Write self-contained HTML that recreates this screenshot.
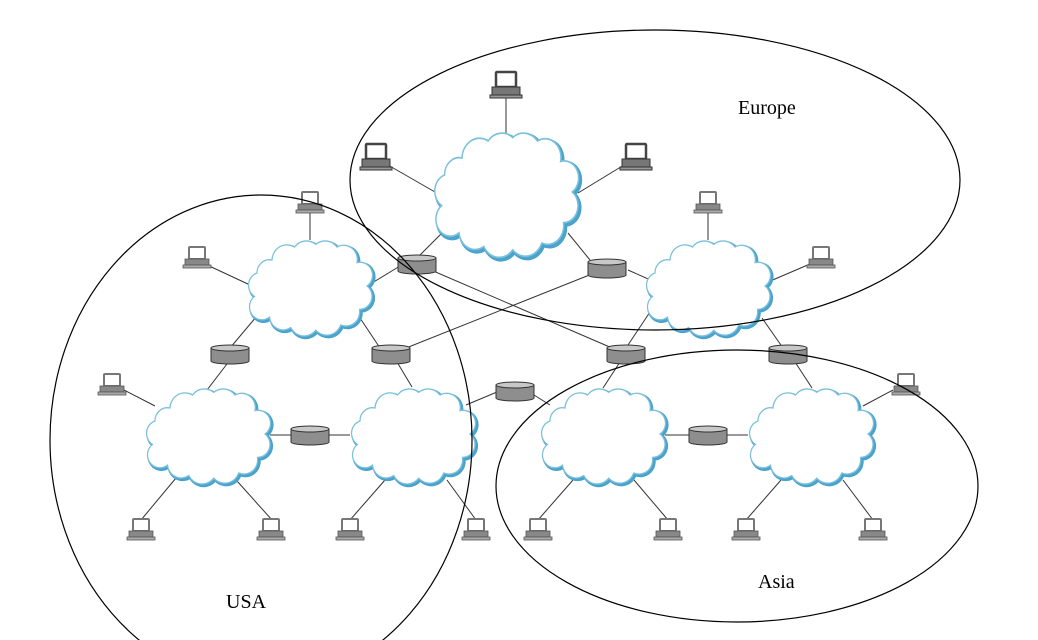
<!DOCTYPE html>
<html><head><meta charset="utf-8"><style>
html,body{margin:0;padding:0;background:#fff;width:1038px;height:640px;overflow:hidden}
svg{display:block}
text{font-family:"Liberation Serif",serif;font-size:20px;fill:#000}
</style></head><body>
<svg width="1038" height="640" viewBox="0 0 1038 640" xmlns="http://www.w3.org/2000/svg">
<defs>
<path id="cp" d="M20,20 A12,12 0 0 1 38,10 A12,12 0 0 1 55,8 A12,12 0 0 1 72,10 A11,11 0 0 1 88,22 A10,10 0 0 1 96,40 A10,10 0 0 1 90,58 A11,11 0 0 1 75,70 A12,12 0 0 1 55,74 A12,12 0 0 1 35,72 A11,11 0 0 1 18,64 A10,10 0 0 1 6,48 A10,10 0 0 1 8,30 A10,10 0 0 1 20,20 Z"/>
<g id="cloud">
<use href="#cp" transform="translate(1.2,1.2)" fill="#fff" stroke="#4aa3cc" stroke-width="2.5" vector-effect="non-scaling-stroke"/>
<use href="#cp" fill="#fff" stroke="#7cc0dc" stroke-width="1" vector-effect="non-scaling-stroke"/>
</g>
<g id="rt">
<rect x="-19" y="-6" width="38" height="13" fill="#8e8e8e" stroke="#333" stroke-width="1"/>
<ellipse cx="0" cy="7" rx="19" ry="3" fill="#8e8e8e" stroke="#333" stroke-width="1"/>
<rect x="-18.5" y="-6" width="37" height="13" fill="#8e8e8e"/>
<ellipse cx="0" cy="-6" rx="19" ry="3" fill="#c8c8c8" stroke="#333" stroke-width="1"/>
</g>
<g id="pc">
<rect x="-8" y="-11" width="16" height="12" rx="1" fill="#fff" stroke="#777" stroke-width="2"/>
<rect x="-12" y="1" width="24" height="6" fill="#888" stroke="#555" stroke-width="0.8"/>
<rect x="-14" y="7" width="28" height="3" fill="#aaa" stroke="#555" stroke-width="0.8"/>
</g>
<g id="pcb">
<rect x="-10" y="-14" width="20" height="15" rx="1" fill="#fff" stroke="#444" stroke-width="2.5"/>
<rect x="-14" y="1" width="28" height="8" fill="#777" stroke="#333" stroke-width="1"/>
<rect x="-16" y="9" width="32" height="3" fill="#999" stroke="#333" stroke-width="1"/>
</g>
</defs>
<g stroke="#333" stroke-width="1" fill="none">
<line x1="506" y1="98" x2="506" y2="135"/>
<line x1="388" y1="165" x2="435" y2="192"/>
<line x1="624" y1="165" x2="578" y2="193"/>
<line x1="417" y1="258" x2="445" y2="230"/>
<line x1="590" y1="260" x2="568" y2="233"/>
<line x1="417" y1="264" x2="626" y2="354"/>
<line x1="391" y1="354" x2="607" y2="268"/>
<line x1="628" y1="270" x2="655" y2="282"/>
<line x1="400" y1="266" x2="372" y2="283"/>
<line x1="310" y1="213" x2="310" y2="240"/>
<line x1="205" y1="264" x2="250" y2="285"/>
<line x1="230" y1="348" x2="262" y2="310"/>
<line x1="380" y1="348" x2="360" y2="318"/>
<line x1="124" y1="390" x2="155" y2="406"/>
<line x1="230" y1="360" x2="207" y2="390"/>
<line x1="141" y1="520" x2="176" y2="478"/>
<line x1="272" y1="520" x2="237" y2="481"/>
<line x1="270" y1="435" x2="292" y2="435"/>
<line x1="328" y1="435" x2="350" y2="435"/>
<line x1="397" y1="362" x2="412" y2="387"/>
<line x1="350" y1="520" x2="385" y2="480"/>
<line x1="476" y1="520" x2="447" y2="480"/>
<line x1="466" y1="405" x2="497" y2="392"/>
<line x1="534" y1="395" x2="550" y2="405"/>
<line x1="708" y1="213" x2="708" y2="240"/>
<line x1="810" y1="264" x2="768" y2="282"/>
<line x1="783" y1="348" x2="762" y2="318"/>
<line x1="650" y1="312" x2="626" y2="348"/>
<line x1="620" y1="362" x2="603" y2="388"/>
<line x1="795" y1="362" x2="812" y2="388"/>
<line x1="665" y1="435" x2="689" y2="435"/>
<line x1="727" y1="435" x2="748" y2="435"/>
<line x1="538" y1="520" x2="573" y2="480"/>
<line x1="668" y1="520" x2="634" y2="480"/>
<line x1="746" y1="520" x2="781" y2="480"/>
<line x1="873" y1="520" x2="843" y2="480"/>
<line x1="893" y1="390" x2="863" y2="406"/>
</g>
<use href="#cloud" transform="translate(433,124) scale(1.45,1.7)"/>
<use href="#cloud" transform="translate(247,234) scale(1.25,1.3)"/>
<use href="#cloud" transform="translate(145,382) scale(1.25,1.3)"/>
<use href="#cloud" transform="translate(350,382) scale(1.25,1.3)"/>
<use href="#cloud" transform="translate(645,234) scale(1.25,1.3)"/>
<use href="#cloud" transform="translate(540,382) scale(1.25,1.3)"/>
<use href="#cloud" transform="translate(748,382) scale(1.25,1.3)"/>
<use href="#rt" x="417" y="264"/>
<use href="#rt" x="607" y="268"/>
<use href="#rt" x="230" y="354"/>
<use href="#rt" x="391" y="354"/>
<use href="#rt" x="626" y="354"/>
<use href="#rt" x="788" y="354"/>
<use href="#rt" x="515" y="391"/>
<use href="#rt" x="310" y="435"/>
<use href="#rt" x="708" y="435"/>
<use href="#pcb" x="506" y="86"/>
<use href="#pcb" x="376" y="158"/>
<use href="#pcb" x="636" y="158"/>
<use href="#pc" x="310" y="203"/>
<use href="#pc" x="197" y="258"/>
<use href="#pc" x="112" y="385"/>
<use href="#pc" x="141" y="530"/>
<use href="#pc" x="271" y="530"/>
<use href="#pc" x="350" y="530"/>
<use href="#pc" x="476" y="530"/>
<use href="#pc" x="538" y="530"/>
<use href="#pc" x="668" y="530"/>
<use href="#pc" x="746" y="530"/>
<use href="#pc" x="873" y="530"/>
<use href="#pc" x="708" y="203"/>
<use href="#pc" x="821" y="258"/>
<use href="#pc" x="906" y="385"/>
<g fill="none" stroke="#000" stroke-width="1.2">
<ellipse cx="655" cy="180" rx="305" ry="150"/>
<ellipse cx="261" cy="440" rx="211" ry="245"/>
<ellipse cx="737" cy="486" rx="241" ry="136"/>
</g>
<text x="738" y="114">Europe</text>
<text x="226" y="608">USA</text>
<text x="758" y="588">Asia</text>
</svg>
</body></html>
